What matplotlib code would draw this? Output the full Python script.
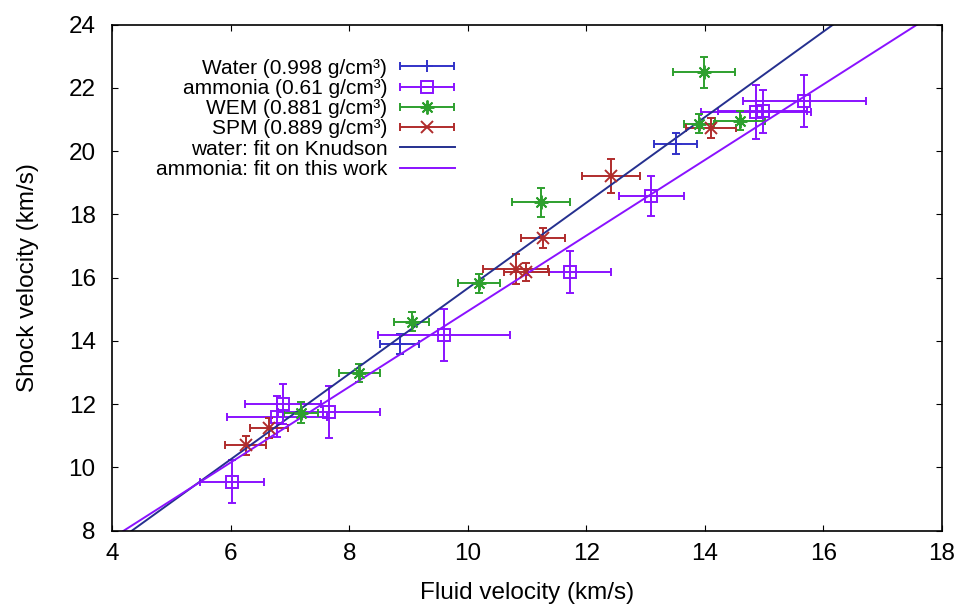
import matplotlib
matplotlib.use("Agg")
import matplotlib.pyplot as plt
import numpy as np
from matplotlib.legend_handler import HandlerErrorbar
from matplotlib.container import ErrorbarContainer

plt.rcParams['font.family'] = ['Liberation Sans', 'DejaVu Sans']

# ---- data ----
water_x = [8.85, 13.51]
water_y = [13.91, 20.24]
water_xerr = [0.33, 0.36]
water_yerr = [0.31, 0.33]

amm_x = [6.02, 6.88, 6.78, 7.66, 9.60, 11.72, 13.10, 14.87, 14.98, 15.68]
amm_y = [9.55, 12.01, 11.61, 11.75, 14.19, 16.18, 18.59, 21.23, 21.26, 21.60]
amm_xerr = [0.54, 0.64, 0.85, 0.86, 1.12, 0.70, 0.55, 0.93, 0.75, 1.04]
amm_yerr = [0.68, 0.63, 0.66, 0.83, 0.81, 0.65, 0.64, 0.85, 0.67, 0.82]

wem_x = [7.18, 8.17, 9.05, 10.19, 11.24, 13.99, 13.90, 14.59]
wem_y = [11.73, 12.98, 14.60, 15.82, 18.38, 22.49, 20.87, 20.97]
wem_xerr = [0.29, 0.34, 0.29, 0.35, 0.49, 0.52, 0.25, 0.42]
wem_yerr = [0.33, 0.29, 0.30, 0.31, 0.47, 0.48, 0.31, 0.31]

spm_x = [6.25, 6.65, 10.81, 10.99, 11.27, 12.41, 14.10]
spm_y = [10.70, 11.24, 16.27, 16.18, 17.25, 19.22, 20.73]
spm_xerr = [0.35, 0.32, 0.55, 0.38, 0.37, 0.49, 0.42]
spm_yerr = [0.31, 0.32, 0.47, 0.30, 0.32, 0.54, 0.31]

# linear fits  Us = a + b * up
water_fit = (2.146, 1.352)
amm_fit = (2.99, 1.195)

x_ticks = [4, 6, 8, 10, 12, 14, 16, 18]
y_ticks = [8, 10, 12, 14, 16, 18, 20, 22, 24]

labels = ['Water (0.998 g/cm\u00b3)', 'ammonia (0.61 g/cm\u00b3)',
          'WEM (0.881 g/cm\u00b3)', 'SPM (0.889 g/cm\u00b3)',
          'water: fit on Knudson', 'ammonia: fit on this work']

c_water = '#3232c8'
c_amm = '#8a12ff'
c_wem = '#2ea02e'
c_spm = '#b02c2c'
c_knud = '#25308f'

fig = plt.figure(figsize=(9.6, 6.05), dpi=100)
ax = fig.add_axes([0.117, 0.1228, 0.864, 0.8364])

ekw = dict(linestyle='none', elinewidth=1.4, capsize=3, capthick=1.4,
           markeredgewidth=1.4)
h1 = ax.errorbar(water_x, water_y, xerr=water_xerr, yerr=water_yerr, marker='+',
                 color=c_water, ms=9, label=labels[0], **ekw)
h2 = ax.errorbar(amm_x, amm_y, xerr=amm_xerr, yerr=amm_yerr, marker='s',
                 color=c_amm, mfc='none', ms=9, label=labels[1], **ekw)
h3 = ax.errorbar(wem_x, wem_y, xerr=wem_xerr, yerr=wem_yerr, marker=(8, 2, 0),
                 color=c_wem, ms=10, label=labels[2], **ekw)
h4 = ax.errorbar(spm_x, spm_y, xerr=spm_xerr, yerr=spm_yerr, marker='x',
                 color=c_spm, ms=9, label=labels[3], **ekw)

xx = np.array([4.0, 18.0])
l5, = ax.plot(xx, water_fit[0] + water_fit[1] * xx, color=c_knud, lw=1.4,
              label=labels[4])
l6, = ax.plot(xx, amm_fit[0] + amm_fit[1] * xx, color=c_amm, lw=1.4,
              label=labels[5])

ax.set_xlim(4, 18)
ax.set_ylim(8, 24)
ax.set_xticks(x_ticks)
ax.set_yticks(y_ticks)
ax.tick_params(direction='in', top=True, right=True, length=4.5, width=0.8,
               labelsize=17.5)
ax.tick_params(axis='x', pad=8.5)
ax.tick_params(axis='y', pad=12)
for s in ax.spines.values():
    s.set_linewidth(1.2)

ax.set_xlabel('Fluid velocity (km/s)', fontsize=17.5, labelpad=12.5)
ax.set_ylabel('Shock velocity (km/s)', fontsize=17.5, labelpad=21)

leg = ax.legend(handles=[h1, h2, h3, h4, l5, l6], labels=labels,
                loc='upper right', bbox_to_anchor=(0.413, 0.933),
                frameon=False, markerfirst=False, fontsize=15,
                handlelength=2.65, handletextpad=0.6, labelspacing=0.06,
                borderpad=0, borderaxespad=0, numpoints=1,
                handler_map={ErrorbarContainer: HandlerErrorbar(xerr_size=1.3, yerr_size=0)})

fig.savefig('out.png', dpi=100)
